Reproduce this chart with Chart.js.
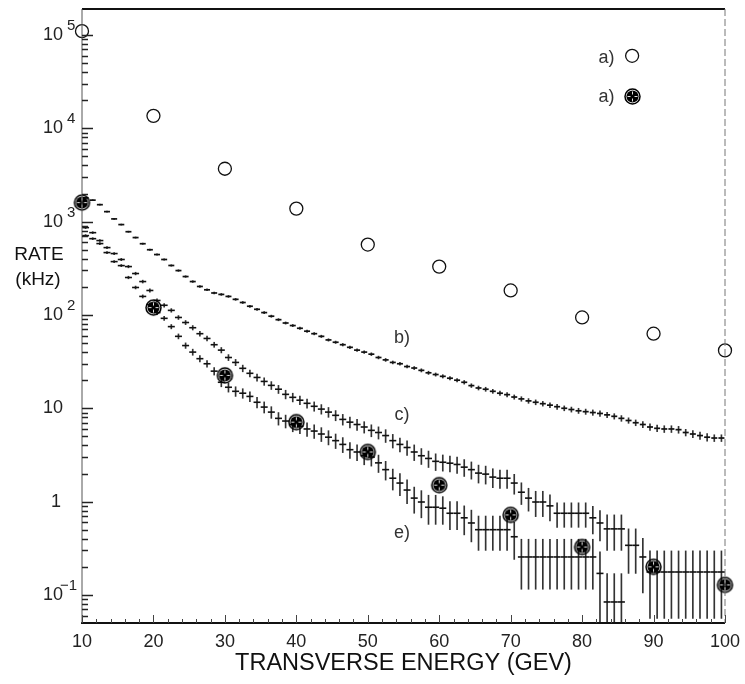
<!DOCTYPE html>
<html>
<head>
<meta charset="utf-8">
<script src="https://cdn.jsdelivr.net/npm/chart.js@4.4.0/dist/chart.umd.min.js"></script>
<style>
  html, body { margin: 0; padding: 0; background: #fff; }
  #chart { display: block; }
</style>
</head>
<body>
<canvas id="chart" width="745" height="684"></canvas>
<script>
// values, rates in kHz
// histograms use 1 GeV bins starting at 10 GeV

const pointEnergies = [10, 20, 30, 40, 50, 60, 70, 80, 90, 100];
const rateOpen = [110000, 13600, 3690, 1380, 568, 330, 183, 94, 63, 41.7];
const rateFilled = [1600, 120, 22.5, 7.1, 3.4, 1.5, 0.72, 0.326, 0.2, 0.128];

const binStart = 10;

const rateB = [
  1800, 1700, 1520, 1280, 1070, 930, 780, 675, 580, 500,
  444, 393, 339, 299, 258, 228, 202, 186, 172, 166,
  158, 147, 136, 124, 115, 106, 97, 89, 82, 77,
  72, 67, 63, 59, 54, 51, 48, 45, 42, 40,
  38, 35, 33, 31, 30, 28, 27, 25.5, 24, 23,
  22, 21, 20, 19, 17.5, 16.5, 16, 15.2, 14.5, 14,
  13.2, 12.6, 12, 11.6, 11.2, 10.8, 10.4, 10, 9.7, 9.4,
  9.2, 9, 8.8, 8.5, 8.2, 7.8, 7.4, 7, 6.7, 6.3,
  6.1, 6, 6, 5.9, 5.5, 5.3, 5.1, 4.9, 4.8, 4.8
];
const errB = [
  20, 20, 18, 16, 14, 12, 11, 10, 9, 8,
  7, 7, 6, 6, 5, 5, 4.5, 4.2, 4, 4,
  3.8, 3.6, 3.4, 3.2, 3, 2.8, 2.6, 2.4, 2.2, 2.1,
  2, 1.9, 1.8, 1.7, 1.6, 1.5, 1.5, 1.4, 1.3, 1.3,
  1.3, 1.2, 1.2, 1.1, 1.1, 1, 1, 1, 0.95, 0.9,
  0.9, 0.9, 0.85, 0.85, 0.8, 0.8, 0.8, 0.75, 0.75, 0.75,
  0.7, 0.7, 0.7, 0.7, 0.65, 0.65, 0.65, 0.6, 0.6, 0.6,
  0.6, 0.6, 0.6, 0.55, 0.55, 0.55, 0.5, 0.5, 0.5, 0.5,
  0.5, 0.5, 0.5, 0.5, 0.45, 0.45, 0.45, 0.45, 0.4, 0.4
];

const rateC = [
  863, 762, 627, 527, 455, 393, 330, 278, 228, 183,
  143, 127, 112, 94, 83, 73, 63, 56, 48, 42,
  35, 31, 26.8, 23.7, 21.4, 19.4, 17.6, 16, 14.1, 13.1,
  12.2, 11.3, 10.5, 9.8, 9.1, 8.4, 7.6, 7.1, 6.7, 6.3,
  5.8, 5.5, 5.1, 4.5, 4.1, 3.8, 3.4, 3.1, 2.9, 2.7,
  2.64, 2.58, 2.5, 2.34, 2.2, 2.02, 1.97, 1.83, 1.78, 1.78,
  1.58, 1.26, 1.09, 0.99, 0.99, 0.9, 0.75, 0.75, 0.75, 0.75,
  0.75, 0.67, 0.59, 0.51, 0.51, 0.51, 0.34, 0.34, 0.255, 0.176,
  0.176, 0.176, 0.176, 0.176, 0.176, 0.176, 0.176, 0.176, 0.176, 0.176
];
const errC = [
  20, 18, 15, 13, 12, 11, 10, 9, 8, 7,
  6, 5.5, 5, 4.5, 4.2, 4, 3.6, 3.3, 3, 2.8,
  2.6, 2.4, 2.2, 2, 1.9, 1.8, 1.7, 1.6, 1.5, 1.4,
  1.3, 1.25, 1.2, 1.15, 1.1, 1.05, 1, 0.95, 0.9, 0.88,
  0.85, 0.82, 0.8, 0.75, 0.7, 0.68, 0.65, 0.6, 0.58, 0.55,
  0.52, 0.5, 0.5, 0.48, 0.46, 0.44, 0.43, 0.42, 0.4, 0.4,
  0.38, 0.33, 0.3, 0.3, 0.3, 0.28, 0.22, 0.22, 0.22, 0.22,
  0.22, 0.22, 0.21, 0.21, 0.21, 0.21, 0.17, 0.17, 0.15, 0.12,
  0.12, 0.12, 0.12, 0.12, 0.12, 0.12, 0.12, 0.12, 0.12, 0.12
];

const rateE = [
  708, 657, 582, 466, 373, 338, 252, 197, 158, 129,
  106, 92, 75, 59, 47, 40, 34, 30, 25, 19,
  16.8, 15.2, 14.5, 13.4, 11.6, 10.3, 9.1, 7.8, 7.3, 6.7,
  6.4, 6, 5.7, 5.3, 4.9, 4.5, 4.1, 3.6, 3.4, 3.1,
  3, 2.6, 2.2, 1.78, 1.58, 1.33, 1.09, 0.99, 0.87, 0.87,
  0.85, 0.75, 0.75, 0.67, 0.59, 0.5, 0.5, 0.5, 0.5, 0.5,
  0.42, 0.255, 0.255, 0.255, 0.255, 0.255, 0.255, 0.255, 0.255, 0.255,
  0.255, 0.255, 0.17, 0.084, 0.084, 0.084, null, null, null, null,
  null, null, null, null, null, null, null, null, null, null
];
const errE = [
  18, 16, 14, 12, 10, 9, 8, 7, 6, 5.5,
  5, 4.5, 4, 3.6, 3.2, 3, 2.7, 2.5, 2.3, 2,
  1.9, 1.8, 1.7, 1.6, 1.5, 1.4, 1.3, 1.2, 1.15, 1.1,
  1.05, 1, 0.95, 0.9, 0.85, 0.8, 0.75, 0.7, 0.66, 0.62,
  0.6, 0.55, 0.5, 0.45, 0.42, 0.38, 0.34, 0.32, 0.3, 0.3,
  0.28, 0.25, 0.25, 0.23, 0.22, 0.2, 0.2, 0.2, 0.2, 0.2,
  0.18, 0.14, 0.14, 0.14, 0.14, 0.14, 0.14, 0.14, 0.14, 0.14,
  0.14, 0.14, 0.12, 0.085, 0.085, 0.085, null, null, null, null,
  null, null, null, null, null, null, null, null, null, null
];

const xTickLabels = [10, 20, 30, 40, 50, 60, 70, 80, 90, 100];
const yDecades = [-1, 0, 1, 2, 3, 4, 5];

// text placed on the plot, in data coordinates
const curveLabels = [
  { text: 'b)', x: 54.8, y: 56 },
  { text: 'c)', x: 54.8, y: 8.4 },
  { text: 'e)', x: 54.8, y: 0.46 }
];
const keyRows = [
  { text: 'a)', x: 83.4, y: 5.7e4, marker: 'open' },
  { text: 'a)', x: 83.4, y: 2.17e4, marker: 'filled' }
];
const keyMarkerX = 87.0;

const FONT = '"Liberation Sans", Arial, Helvetica, sans-serif';
const INK = '#111';

const binCenters = rateB.map((_, i) => binStart + i + 0.5);

function histPoints(values) {
  const pts = [];
  values.forEach((v, i) => { if (v != null) pts.push({ x: binCenters[i], y: v }); });
  return pts;
}

function errorBars(values, errs) {
  const pts = [];
  values.forEach((v, i) => {
    if (v == null || errs[i] == null) return;
    pts.push({ x: binCenters[i], y: [Math.max(v - errs[i], 0.01), v + errs[i]] });
  });
  return pts;
}

// black disc in a ring, with a thin white cross inside
function makeCrossDot(r) {
  const c = document.createElement('canvas');
  const s = Math.ceil(r * 2 + 4);
  c.width = s; c.height = s;
  const g = c.getContext('2d');
  const m = s / 2;
  g.strokeStyle = '#000'; g.lineWidth = 1.5;
  g.beginPath(); g.arc(m, m, r, 0, Math.PI * 2); g.stroke();
  g.fillStyle = '#000';
  g.beginPath(); g.arc(m, m, r - 1.4, 0, Math.PI * 2); g.fill();
  g.strokeStyle = '#fff'; g.lineWidth = 0.9;
  g.beginPath();
  g.moveTo(m - r + 2.5, m); g.lineTo(m - 2, m);
  g.moveTo(m + 2, m); g.lineTo(m + r - 2.5, m);
  g.moveTo(m, m - r + 2.5); g.lineTo(m, m - 2);
  g.moveTo(m, m + 2); g.lineTo(m, m + r - 2.5);
  g.stroke();
  return c;
}
const crossDot = makeCrossDot(7.5);

function histDataset(values, radius, width) {
  return {
    type: 'scatter',
    data: histPoints(values),
    showLine: false,
    pointStyle: 'line',
    pointRadius: radius,
    pointBorderColor: INK,
    pointBorderWidth: width,
    order: 2
  };
}

function errDataset(values, errs) {
  return {
    type: 'bar',
    data: errorBars(values, errs),
    backgroundColor: '#333',
    barThickness: 1,
    grouped: false,
    order: 3
  };
}

const framePlugin = {
  id: 'frame',
  afterDraw(chart) {
    const { ctx, chartArea: a, scales: { x, y } } = chart;
    ctx.save();

    // frame
    ctx.strokeStyle = INK;
    ctx.lineWidth = 2;
    ctx.beginPath(); ctx.moveTo(a.left, a.top); ctx.lineTo(a.right, a.top); ctx.stroke();
    ctx.beginPath(); ctx.moveTo(a.left - 1, a.bottom); ctx.lineTo(a.right, a.bottom); ctx.stroke();
    ctx.lineWidth = 1;
    ctx.strokeStyle = '#555';
    ctx.beginPath(); ctx.moveTo(a.left, a.top); ctx.lineTo(a.left, a.bottom); ctx.stroke();
    ctx.setLineDash([7, 3]);
    ctx.strokeStyle = '#777';
    ctx.beginPath(); ctx.moveTo(a.right, a.top); ctx.lineTo(a.right, a.bottom); ctx.stroke();
    ctx.setLineDash([]);

    // y ticks, drawn inward
    ctx.strokeStyle = '#222';
    ctx.lineWidth = 1.5;
    y.ticks.forEach(t => {
      const v = t.value;
      const e = Math.floor(Math.log10(v) + 1e-9);
      const sig = v / Math.pow(10, e);
      if (Math.abs(sig - Math.round(sig)) > 1e-6) return;
      const py = Math.round(y.getPixelForValue(v)) + 0.5;
      if (py < a.top || py > a.bottom) return;
      const len = Math.round(sig) === 1 ? 11 : 6;
      ctx.beginPath(); ctx.moveTo(a.left, py); ctx.lineTo(a.left + len, py); ctx.stroke();
    });

    // x ticks, drawn inward
    ctx.lineWidth = 1;
    ctx.strokeStyle = '#444';
    x.ticks.forEach(t => {
      const px = Math.round(x.getPixelForValue(t.value)) + 0.5;
      const len = t.value % 10 === 0 ? 8 : 4;
      ctx.beginPath(); ctx.moveTo(px, a.bottom); ctx.lineTo(px, a.bottom - len); ctx.stroke();
    });

    // y tick labels with raised exponents
    ctx.fillStyle = '#222';
    ctx.textBaseline = 'middle';
    yDecades.forEach(e => {
      const py = y.getPixelForValue(Math.pow(10, e));
      ctx.font = '18px ' + FONT;
      ctx.textAlign = 'right';
      if (e === 0) { ctx.fillText('1', 61, py); return; }
      ctx.fillText('10', 63, py);
      if (e === 1) return;
      ctx.font = '15px ' + FONT;
      ctx.textAlign = 'left';
      ctx.fillText(e < 0 ? '\u2212' + (-e) : String(e), e < 0 ? 60 : 67, py - 9);
    });

    // y title
    ctx.font = '19px ' + FONT;
    ctx.textAlign = 'center';
    ctx.fillStyle = INK;
    ctx.fillText('RATE', 39, 255);
    ctx.fillText('(kHz)', 38, 280);

    // curve labels
    ctx.font = '18px ' + FONT;
    ctx.fillStyle = '#333';
    curveLabels.forEach(l => {
      ctx.fillText(l.text, x.getPixelForValue(l.x), y.getPixelForValue(l.y));
    });

    // key
    keyRows.forEach(r => {
      const py = y.getPixelForValue(r.y);
      ctx.fillStyle = '#333';
      ctx.fillText(r.text, x.getPixelForValue(r.x), py);
      const mx = x.getPixelForValue(keyMarkerX);
      if (r.marker === 'open') {
        ctx.strokeStyle = INK; ctx.lineWidth = 1.3;
        ctx.beginPath(); ctx.arc(mx, py - 2, 6.5, 0, Math.PI * 2); ctx.stroke();
      } else {
        ctx.drawImage(crossDot, Math.round(mx - crossDot.width / 2), Math.round(py - crossDot.height / 2));
      }
    });

    ctx.restore();
  }
};

new Chart(document.getElementById('chart'), {
  type: 'scatter',
  data: {
    datasets: [
      errDataset(rateB, errB),
      errDataset(rateC, errC),
      errDataset(rateE, errE),
      histDataset(rateB, 3, 1.7),
      histDataset(rateC, 3.5, 1.6),
      histDataset(rateE, 3.5, 1.6),
      {
        type: 'scatter',
        data: pointEnergies.map((e, i) => ({ x: e, y: rateOpen[i] })),
        pointStyle: 'circle',
        pointRadius: 6.5,
        pointBorderWidth: 1.3,
        pointBorderColor: INK,
        pointBackgroundColor: '#fff',
        clip: false,
        order: 1
      },
      {
        type: 'scatter',
        data: pointEnergies.map((e, i) => ({ x: e, y: rateFilled[i] })),
        pointStyle: crossDot,
        pointRadius: 8,
        clip: false,
        order: 1
      }
    ]
  },
  options: {
    responsive: false,
    animation: false,
    events: [],
    layout: { padding: { top: 8, right: 20, left: 0, bottom: 0 } },
    plugins: { legend: { display: false }, tooltip: { enabled: false } },
    scales: {
      x: {
        type: 'linear',
        min: 10,
        max: 100,
        offset: false,
        grid: { display: false, offset: false },
        border: { display: false },
        ticks: {
          stepSize: 2,
          autoSkip: false,
          maxRotation: 0,
          padding: 0,
          color: '#222',
          font: { family: FONT, size: 18 },
          callback: v => (xTickLabels.includes(v) ? String(v) : '')
        },
        title: {
          display: true,
          text: 'TRANSVERSE ENERGY (GEV)',
          color: INK,
          font: { family: FONT, size: 23.5 },
          padding: { top: 0, bottom: 6 }
        },
        afterFit(scale) { scale.height = 61; }
      },
      y: {
        type: 'logarithmic',
        min: 0.05,
        max: 190000,
        grid: { display: false },
        border: { display: false },
        ticks: { display: false },
        afterFit(scale) { scale.width = 82; }
      }
    }
  },
  plugins: [framePlugin]
});
</script>
</body>
</html>
